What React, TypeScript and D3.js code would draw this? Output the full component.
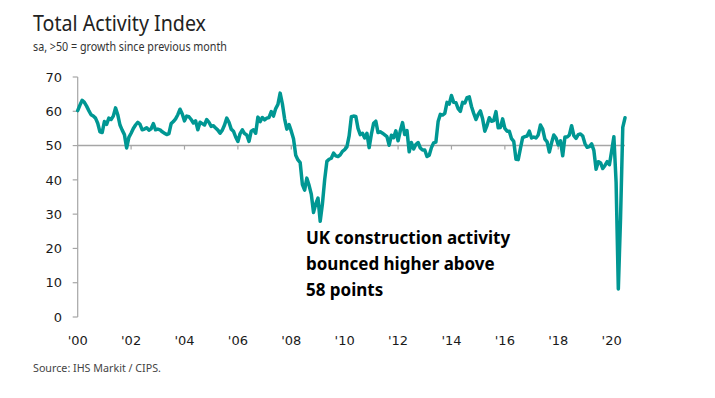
import React from "react";
import * as d3 from "d3";

// monthly Total Activity Index, Jan 2000 - Jul 2020
const y2000 = [60.2, 61.8, 63.2, 62.6, 61.5, 60.2, 59.0, 58.6, 58.0, 56.5, 54.0, 53.8];
const y2001 = [57.0, 56.2, 58.0, 57.6, 58.6, 61.0, 59.0, 56.0, 54.5, 53.2, 49.3, 52.4];
const y2002 = [53.6, 55.0, 56.0, 56.8, 56.2, 54.6, 54.8, 55.2, 54.5, 54.9, 56.4, 54.6];
const y2003 = [54.8, 54.6, 54.0, 53.6, 53.2, 53.5, 56.4, 57.0, 57.8, 59.0, 60.6, 59.2];
const y2004 = [57.2, 58.6, 58.4, 57.6, 56.6, 57.2, 54.6, 56.8, 56.4, 56.0, 57.6, 56.8];
const y2005 = [55.6, 55.8, 55.1, 54.5, 53.6, 54.5, 56.0, 58.0, 56.8, 54.8, 54.2, 52.5];
const y2006 = [51.2, 53.5, 54.6, 53.5, 53.1, 51.2, 54.2, 54.6, 53.6, 58.3, 57.0, 58.2];
const y2007 = [57.5, 58.0, 58.2, 59.9, 58.6, 60.8, 62.0, 65.3, 62.2, 57.8, 54.8, 56.1];
const y2008 = [54.2, 52.0, 47.2, 45.8, 45.0, 38.6, 37.0, 40.5, 38.4, 35.8, 30.5, 33.0];
const y2009 = [34.7, 27.9, 33.0, 40.0, 45.4, 46.0, 46.3, 47.8, 47.0, 46.8, 47.3, 48.3];
const y2010 = [48.8, 49.6, 52.8, 58.4, 58.6, 58.5, 55.0, 53.2, 53.6, 52.2, 53.6, 49.4];
const y2011 = [53.3, 56.5, 57.1, 53.8, 54.0, 53.6, 53.1, 52.6, 50.1, 53.0, 52.3, 54.3];
const y2012 = [51.4, 54.3, 56.7, 53.2, 54.4, 48.2, 50.9, 49.0, 50.3, 50.9, 49.3, 48.7];
const y2013 = [48.7, 46.8, 47.2, 49.4, 50.8, 51.0, 57.0, 59.1, 58.9, 59.4, 62.6, 62.1];
const y2014 = [64.6, 62.6, 62.5, 60.8, 60.0, 62.6, 62.4, 64.0, 64.2, 61.4, 59.4, 57.6];
const y2015 = [59.1, 60.1, 57.8, 54.2, 55.9, 58.1, 57.1, 57.3, 59.9, 55.2, 55.3, 57.8];
const y2016 = [55.0, 54.2, 54.2, 52.0, 51.2, 46.0, 45.9, 49.2, 52.3, 52.6, 52.8, 54.2];
const y2017 = [52.2, 52.5, 52.2, 53.1, 56.0, 54.8, 51.9, 51.1, 48.1, 50.8, 53.1, 52.2];
const y2018 = [50.2, 51.4, 47.0, 52.5, 52.5, 53.1, 55.8, 52.9, 52.1, 53.2, 53.4, 52.8];
const y2019 = [50.6, 49.5, 49.7, 50.5, 48.6, 43.1, 45.3, 45.0, 43.3, 44.2, 45.3, 44.4];
const y2020 = [48.4, 52.6, 39.3, 8.2, 28.9, 55.3, 58.1];

const values = [
  ...y2000, ...y2001, ...y2002, ...y2003, ...y2004, ...y2005, ...y2006,
  ...y2007, ...y2008, ...y2009, ...y2010, ...y2011, ...y2012, ...y2013,
  ...y2014, ...y2015, ...y2016, ...y2017, ...y2018, ...y2019, ...y2020,
];

const yTicks = [0, 10, 20, 30, 40, 50, 60, 70];
const xTickMonths = [0, 24, 48, 72, 96, 120, 144, 168, 192, 216, 240];
const xTickLabels = ["'00", "'02", "'04", "'06", "'08", "'10", "'12", "'14", "'16", "'18", "'20"];
const noteLines = ["UK construction activity", "bounced higher above", "58 points"];

const W = 715;
const H = 398;
const teal = "#009793";
const axisGrey = "#a6a6a6";
const tickFont = "'DejaVu Sans', Verdana, sans-serif";
const textFont = "'Noto Sans', 'Open Sans', sans-serif";

const App = () => {
  const x = d3.scaleLinear().domain([0, 246]).range([77.7, 625]);
  const y = d3.scaleLinear().domain([0, 70]).range([317, 77]);
  const line = d3
    .line<number>()
    .x((d, i) => x(i))
    .y((d) => y(d));

  return (
    <svg
      width={W}
      height={H}
      style={{ position: "absolute", left: 0, top: 0, background: "#fff" }}
    >
      <text x={33} y={31} fontFamily={textFont} fontSize={21} fill="#222" textLength={173} lengthAdjust="spacingAndGlyphs">
        Total Activity Index
      </text>
      <text x={33} y={51} fontFamily={textFont} fontSize={12} fill="#333" textLength={194} lengthAdjust="spacingAndGlyphs">
        sa, &gt;50 = growth since previous month
      </text>

      {/* y axis */}
      <line x1={x(0)} x2={x(0)} y1={y(70)} y2={y(0)} stroke={axisGrey} strokeWidth={1.2} />
      {yTicks.map((t) => (
        <g key={t}>
          <line x1={x(0) - 5} x2={x(0)} y1={y(t)} y2={y(t)} stroke={axisGrey} strokeWidth={1.2} />
          <text x={62} y={y(t)} dy="0.36em" textAnchor="end" fontFamily={tickFont} fontSize={13} fill="#1a1a1a">
            {t}
          </text>
        </g>
      ))}

      {/* 50 line with year ticks */}
      <line x1={x(0)} x2={x(246)} y1={y(50)} y2={y(50)} stroke={axisGrey} strokeWidth={1.4} />
      {xTickMonths.map((m, i) => (
        <g key={m}>
          {i > 0 && (
            <line x1={x(m)} x2={x(m)} y1={y(50)} y2={y(50) + 4} stroke={axisGrey} strokeWidth={1.2} />
          )}
          <text x={x(m)} y={345} textAnchor="middle" fontFamily={tickFont} fontSize={13} fill="#1a1a1a">
            {xTickLabels[i]}
          </text>
        </g>
      ))}

      <path d={line(values) || ""} fill="none" stroke={teal} strokeWidth={3.5} strokeLinejoin="round" strokeLinecap="round" />

      {noteLines.map((s, i) => (
        <text
          key={s}
          x={306}
          y={244 + i * 26}
          fontFamily={textFont}
          fontWeight="bold"
          fontSize={17}
          fill="#000"
        >
          {s}
        </text>
      ))}

      <text x={33} y={372} fontFamily={textFont} fontSize={11} fill="#444" textLength={128} lengthAdjust="spacingAndGlyphs">
        Source: IHS Markit / CIPS.
      </text>
    </svg>
  );
};

export default App;
